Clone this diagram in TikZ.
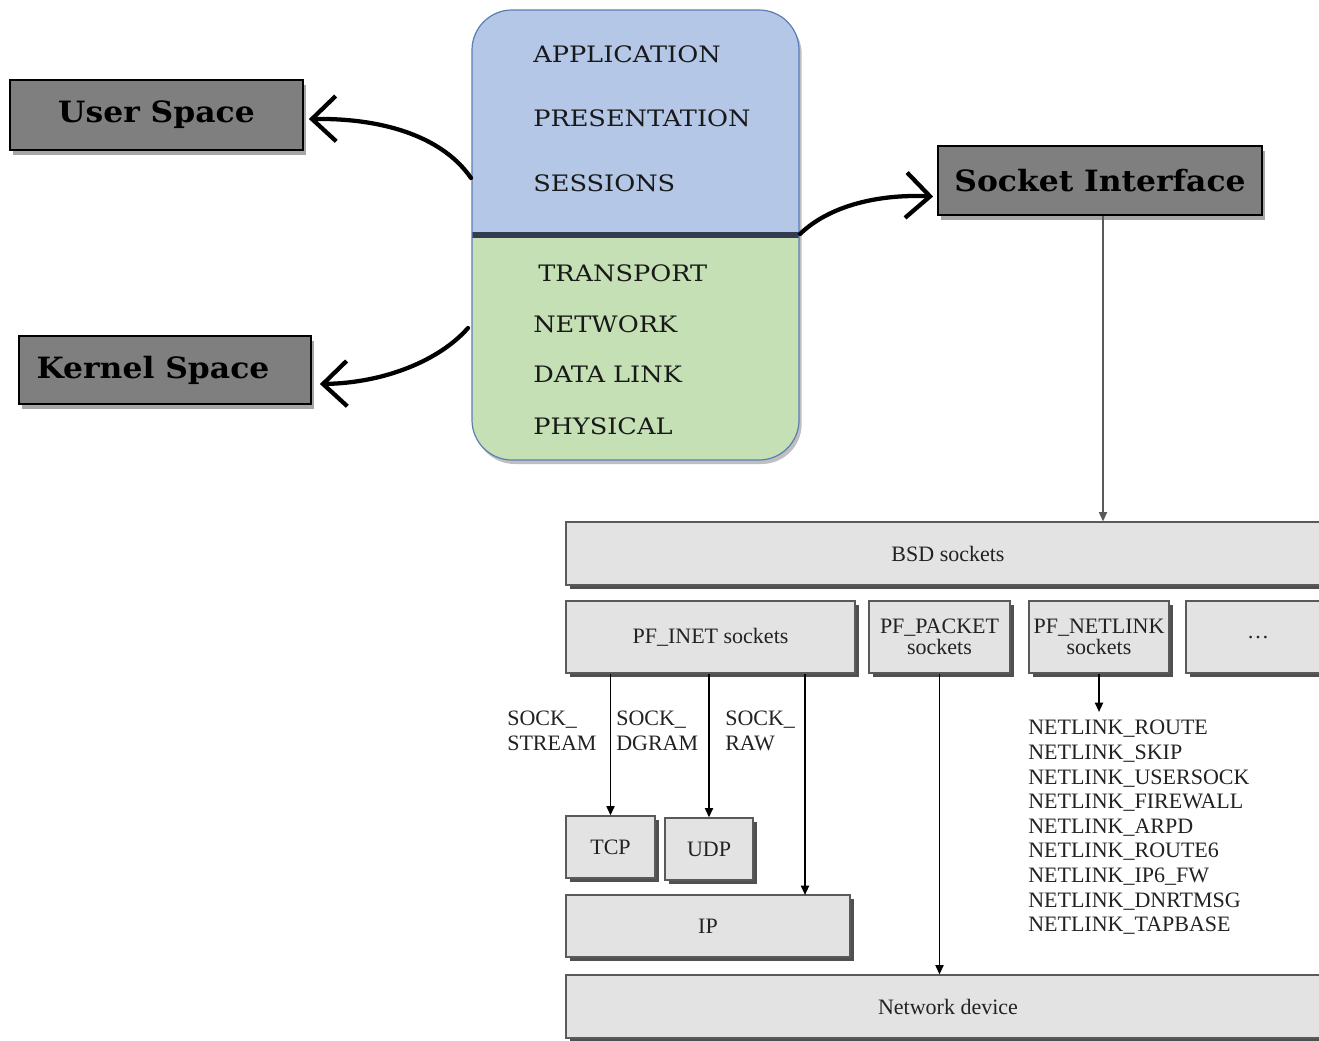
\documentclass[tikz,border=0pt]{standalone}
\usepackage{fontspec}
\setmainfont{Liberation Serif}
\newfontfamily\osifont[FakeStretch=1.13]{DejaVu Serif}
\newfontfamily\spacefont[FakeStretch=1.07]{DejaVu Serif}
\usetikzlibrary{arrows.meta,shadows,calc}
\definecolor{osiblue}{HTML}{B4C7E7}
\definecolor{osigreen}{HTML}{C5E0B4}
\definecolor{osiedge}{HTML}{5B7DB5}
\definecolor{osibar}{HTML}{323E4F}
\definecolor{spacegray}{HTML}{7F7F7F}
\definecolor{layerfill}{HTML}{E3E3E3}
\definecolor{layeredge}{HTML}{5A5A5A}
\definecolor{layershadow}{HTML}{505050}
\definecolor{layerink}{HTML}{222222}
\begin{document}
\begin{tikzpicture}[x=0.75pt,y=-0.75pt,
  spacebox/.style={draw=black,line width=1.3pt,fill=spacegray,inner sep=0pt,
    drop shadow={shadow xshift=2pt,shadow yshift=-4pt,opacity=0.35,fill=black},
    font=\spacefont\bfseries\fontsize{22}{26}\selectfont},
  osibox/.style={draw=osiedge,line width=0.9pt,rounded corners=30pt,fill=osigreen,inner sep=0pt,
    drop shadow={shadow xshift=2pt,shadow yshift=-3pt,opacity=0.25,fill=black},
    path picture={
      \fill[osiblue,sharp corners] (path picture bounding box.north west) rectangle (path picture bounding box.east);
      \draw[osibar,line width=4.5pt,sharp corners] (path picture bounding box.west) -- (path picture bounding box.east);}},
  ositext/.style={anchor=west,inner sep=0pt,text=black!90,font=\osifont\fontsize{17}{20}\selectfont},
  handarrow/.style={line width=3.2pt,line cap=round,line join=round,
    -{Straight Barb[length=18pt,width=34pt,line width=3.2pt]}},
  layerbox/.style={draw=layeredge,line width=0.9pt,fill=layerfill,inner sep=0pt,
    drop shadow={shadow xshift=3pt,shadow yshift=-3pt,fill=layershadow,opacity=1},
    text=layerink,font=\fontsize{16.5}{18.45}\selectfont,align=center},
  lbl/.style={inner sep=0pt,text=layerink,align=left,font=\fontsize{16.5}{18.75}\selectfont},
  flow/.style={line width=1.4pt,black,-{Triangle[length=7pt,width=6pt]}},
  grayflow/.style={line width=1.3pt,layeredge,-{Triangle[length=7pt,width=6pt]}}
]
\useasboundingbox (0,0) rectangle (1319,1040);
\fill[white] (0,0) rectangle (1319,1040);

% OSI layer stack
\node[osibox,minimum width=245.25pt,minimum height=337.5pt] (osi) at (635.5,235) {};
\node[ositext] (app)  at (533,54)  {APPLICATION};
\node[ositext] (pres) at (533,118) {PRESENTATION};
\node[ositext] (sess) at (533,183) {SESSIONS};
\node[ositext] (trans) at (538,273) {TRANSPORT};
\node[ositext] (net)  at (533,324) {NETWORK};
\node[ositext] (dlink) at (533,374) {DATA LINK};
\node[ositext] (phys) at (533,426) {PHYSICAL};

% space labels
\node[spacebox,minimum width=219.75pt,minimum height=52.5pt] (user) at (156.5,115) {User Space};
\node[spacebox,minimum width=219pt,minimum height=51pt] (kernel) at (165,370) {\hspace*{-18pt}Kernel Space};
\node[spacebox,minimum width=243pt,minimum height=51.75pt] (sock) at (1100,180.5) {Socket Interface};

% curved arrows from the stack
\coordinate (upperout) at (471,178);
\coordinate (lowerout) at (468,328);
\coordinate (barout) at (800,234);
\draw[handarrow] (upperout) .. controls (445,140) and (390,118) .. ($(user.east)+(5,4)$);
\draw[handarrow] (lowerout) .. controls (440,360) and (385,383) .. ($(kernel.east)+(8,14)$);
\draw[handarrow] (barout) .. controls (830,205) and (880,194) .. ($(sock.west)+(-4,16)$);

% Linux socket layers
\node[layerbox,minimum width=573pt,minimum height=47.25pt] (bsd) at (948,553.5) {BSD sockets};
\node[layerbox,minimum width=216.75pt,minimum height=54pt] (inet) at (710.5,637) {PF\_INET sockets};
\node[layerbox,minimum width=105.75pt,minimum height=54pt] (packet) at (939.5,637) {PF\_PACKET\\[-3pt]sockets};
\node[layerbox,minimum width=105pt,minimum height=54pt] (netlink) at (1099,637) {PF\_NETLINK\\[-3pt]sockets};
\node[layerbox,minimum width=108pt,minimum height=54pt] (more) at (1258,637) {\dots};
\node[layerbox,minimum width=66.75pt,minimum height=46.5pt] (tcp) at (610.5,847) {TCP};
\node[layerbox,minimum width=66pt,minimum height=46.5pt] (udp) at (709,849) {UDP};
\node[layerbox,minimum width=213pt,minimum height=46.5pt] (ip) at (708,926) {IP};
\node[layerbox,minimum width=573pt,minimum height=47.25pt] (netdev) at (948,1006.5) {Network device};

\draw[grayflow] ($(sock.south)+(3,0)$) -- ($(sock.south |- bsd.north)+(3,0)$);

\coordinate (rawend) at (805,895);
\draw[flow] (inet.south -| tcp.north) -- (tcp.north);
\draw[flow] (inet.south -| udp.north) -- (udp.north);
\draw[flow] (inet.south -| rawend) -- (rawend);
\draw[flow] (packet.south) -- (packet.south |- netdev.north);

\node[lbl,anchor=west] (stream) at (507,731) {SOCK\_\\STREAM};
\node[lbl,anchor=west] (dgram) at (616,731) {SOCK\_\\DGRAM};
\node[lbl,anchor=west] (raw) at (725,731) {SOCK\_\\RAW};

\node[lbl,anchor=north west,font=\fontsize{16.5}{18.45}\selectfont] (nllist) at (1028,720) {NETLINK\_ROUTE\\NETLINK\_SKIP\\NETLINK\_USERSOCK\\NETLINK\_FIREWALL\\NETLINK\_ARPD\\NETLINK\_ROUTE6\\NETLINK\_IP6\_FW\\NETLINK\_DNRTMSG\\NETLINK\_TAPBASE};
\coordinate (nlend) at (1099,712);
\draw[flow] (netlink.south) -- (nlend);
\end{tikzpicture}
\end{document}
